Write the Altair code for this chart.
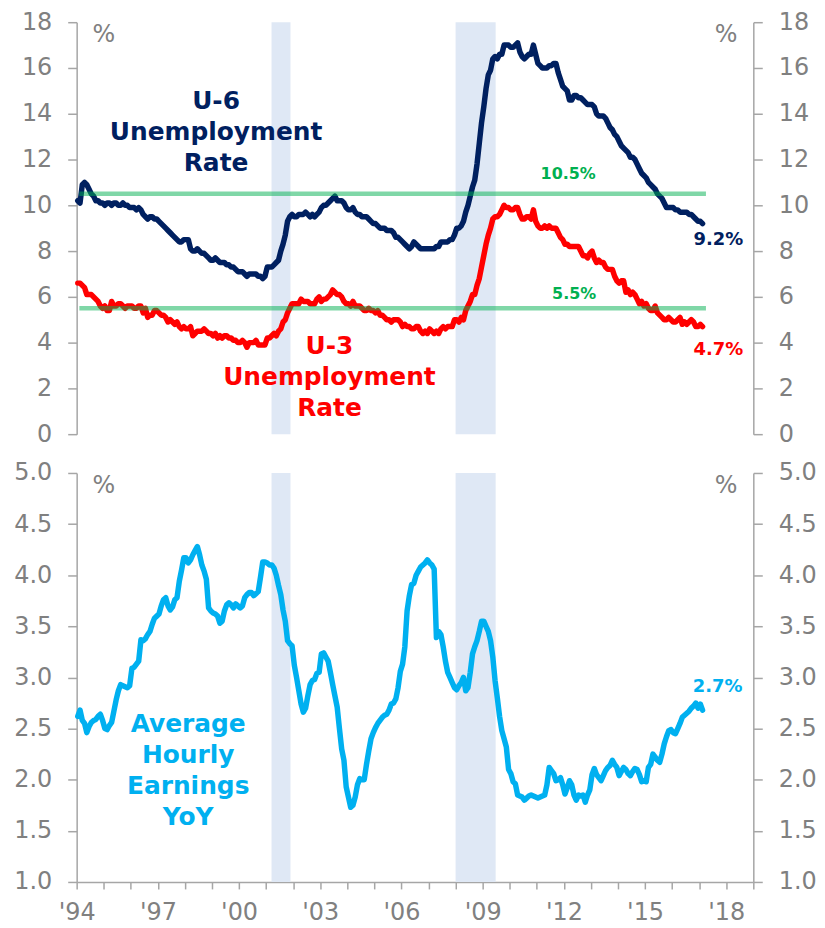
import altair as alt
import pandas as pd

# ---------------- data (monthly, Jan 1994 - Feb 2017) ----------------
START_YEAR = 1994

U6 = [
    10.2, 10.1, 10.9, 11.0, 10.9, 10.7, 10.5, 10.4, 10.2, 10.2, 10.1, 10.1,  # 1994
    10.0, 10.1, 10.1, 10.0, 10.1, 10.1, 10.0, 10.0, 10.1, 10.0, 10.0, 9.9,   # 1995
    9.9, 9.9, 9.8, 9.9, 9.8, 9.6, 9.5, 9.4, 9.5, 9.5, 9.4, 9.4,              # 1996
    9.3, 9.2, 9.1, 9.0, 8.9, 8.8, 8.7, 8.6, 8.5, 8.4, 8.4, 8.5,              # 1997
    8.5, 8.5, 8.1, 8.0, 8.0, 8.1, 8.0, 7.9, 7.9, 7.8, 7.7, 7.6,              # 1998
    7.6, 7.7, 7.6, 7.5, 7.5, 7.5, 7.4, 7.4, 7.3, 7.3, 7.2, 7.1,              # 1999
    7.1, 7.1, 7.0, 6.9, 7.0, 7.0, 7.0, 7.0, 6.9, 6.9, 6.8, 6.9,              # 2000
    7.3, 7.3, 7.3, 7.4, 7.5, 7.6, 8.0, 8.3, 8.7, 9.3, 9.5, 9.6,              # 2001
    9.5, 9.5, 9.6, 9.6, 9.6, 9.7, 9.6, 9.5, 9.6, 9.5, 9.6, 9.7,              # 2002
    9.9, 10.0, 10.0, 10.1, 10.2, 10.3, 10.4, 10.2, 10.2, 10.2, 10.1, 9.9,    # 2003
    9.8, 9.8, 9.9, 9.7, 9.6, 9.6, 9.5, 9.5, 9.5, 9.4, 9.3, 9.2,              # 2004
    9.2, 9.1, 9.0, 9.0, 9.0, 8.9, 8.9, 8.9, 8.8, 8.6, 8.6, 8.5,              # 2005
    8.4, 8.3, 8.2, 8.1, 8.2, 8.4, 8.3, 8.2, 8.1, 8.1, 8.1, 8.1,              # 2006
    8.1, 8.1, 8.1, 8.2, 8.2, 8.4, 8.4, 8.4, 8.4, 8.5, 8.5, 8.7,              # 2007
    9.0, 9.0, 9.1, 9.3, 9.7, 10.0, 10.4, 10.8, 11.1, 11.8, 12.7, 13.6,       # 2008
    14.3, 15.1, 15.7, 15.9, 16.4, 16.5, 16.4, 16.6, 16.6, 17.0, 17.0, 17.0,  # 2009
    16.9, 16.9, 17.0, 17.1, 16.7, 16.5, 16.4, 16.5, 16.6, 16.6, 17.0, 16.6,  # 2010
    16.2, 16.1, 16.0, 16.0, 16.0, 16.1, 16.1, 16.2, 16.2, 15.8, 15.5, 15.2,  # 2011
    15.1, 15.0, 14.6, 14.6, 14.8, 14.8, 14.7, 14.7, 14.6, 14.5, 14.4, 14.4,  # 2012
    14.4, 14.3, 14.0, 13.9, 13.9, 13.9, 13.8, 13.6, 13.4, 13.3, 13.1, 13.0,  # 2013
    12.8, 12.6, 12.5, 12.4, 12.3, 12.1, 12.1, 12.0, 11.8, 11.6, 11.4, 11.3,  # 2014
    11.2, 11.0, 10.9, 10.8, 10.7, 10.5, 10.4, 10.3, 10.1, 9.9, 9.9, 9.9,     # 2015
    9.9, 9.8, 9.8, 9.7, 9.7, 9.7, 9.7, 9.6, 9.6, 9.5, 9.4, 9.3,              # 2016
    9.3, 9.2,                                                                # 2017
]

U3 = [
    6.6, 6.6, 6.5, 6.4, 6.1, 6.1, 6.1, 6.0, 5.9, 5.8, 5.6, 5.5,  # 1994
    5.6, 5.4, 5.4, 5.8, 5.6, 5.6, 5.7, 5.7, 5.6, 5.5, 5.6, 5.6,  # 1995
    5.6, 5.5, 5.5, 5.6, 5.6, 5.3, 5.5, 5.1, 5.2, 5.2, 5.4, 5.4,  # 1996
    5.3, 5.2, 5.2, 5.1, 4.9, 5.0, 4.9, 4.8, 4.9, 4.7, 4.6, 4.7,  # 1997
    4.6, 4.6, 4.7, 4.3, 4.4, 4.5, 4.5, 4.5, 4.6, 4.5, 4.4, 4.4,  # 1998
    4.3, 4.4, 4.2, 4.3, 4.2, 4.3, 4.3, 4.2, 4.2, 4.1, 4.1, 4.0,  # 1999
    4.0, 4.1, 4.0, 3.8, 4.0, 4.0, 4.0, 4.1, 3.9, 3.9, 3.9, 3.9,  # 2000
    4.2, 4.2, 4.3, 4.4, 4.3, 4.5, 4.6, 4.9, 5.0, 5.3, 5.5, 5.7,  # 2001
    5.7, 5.7, 5.7, 5.9, 5.8, 5.8, 5.8, 5.7, 5.7, 5.7, 5.9, 6.0,  # 2002
    5.8, 5.9, 5.9, 6.0, 6.1, 6.3, 6.2, 6.1, 6.1, 6.0, 5.8, 5.7,  # 2003
    5.7, 5.6, 5.8, 5.6, 5.6, 5.6, 5.5, 5.4, 5.4, 5.5, 5.4, 5.4,  # 2004
    5.3, 5.4, 5.2, 5.2, 5.1, 5.0, 5.0, 4.9, 5.0, 5.0, 5.0, 4.9,  # 2005
    4.7, 4.8, 4.7, 4.7, 4.6, 4.6, 4.7, 4.7, 4.5, 4.4, 4.5, 4.4,  # 2006
    4.6, 4.5, 4.4, 4.5, 4.4, 4.6, 4.7, 4.6, 4.7, 4.7, 4.7, 5.0,  # 2007
    5.0, 4.9, 5.1, 5.0, 5.4, 5.6, 5.8, 6.1, 6.1, 6.5, 6.8, 7.3,  # 2008
    7.8, 8.3, 8.7, 9.0, 9.4, 9.5, 9.5, 9.6, 9.8, 10.0, 9.9, 9.9, # 2009
    9.8, 9.8, 9.9, 9.9, 9.6, 9.4, 9.4, 9.5, 9.5, 9.4, 9.8, 9.3,  # 2010
    9.1, 9.0, 9.0, 9.1, 9.0, 9.1, 9.0, 9.0, 9.0, 8.8, 8.6, 8.5,  # 2011
    8.3, 8.3, 8.2, 8.2, 8.2, 8.2, 8.2, 8.0, 7.8, 7.8, 7.7, 7.9,  # 2012
    8.0, 7.7, 7.5, 7.6, 7.5, 7.5, 7.3, 7.2, 7.2, 7.2, 6.9, 6.7,  # 2013
    6.6, 6.7, 6.7, 6.2, 6.3, 6.1, 6.2, 6.1, 5.9, 5.7, 5.8, 5.6,  # 2014
    5.7, 5.5, 5.4, 5.4, 5.6, 5.3, 5.2, 5.1, 5.0, 5.0, 5.1, 5.0,  # 2015
    4.9, 4.9, 5.0, 5.1, 4.8, 4.9, 4.8, 4.9, 5.0, 4.9, 4.7, 4.7,  # 2016
    4.8, 4.7,                                                    # 2017
]

AHE = [
    2.62, 2.68, 2.58, 2.55, 2.46, 2.52, 2.56, 2.58, 2.59, 2.62, 2.64, 2.58,  # 1994
    2.50, 2.49, 2.53, 2.56, 2.67, 2.78, 2.87, 2.93, 2.92, 2.91, 2.90, 2.92,  # 1995
    3.09, 3.10, 3.13, 3.16, 3.37, 3.36, 3.38, 3.42, 3.45, 3.52, 3.58, 3.60,  # 1996
    3.62, 3.70, 3.76, 3.78, 3.70, 3.66, 3.69, 3.76, 3.78, 3.94, 4.05, 4.17,  # 1997
    4.17, 4.12, 4.15, 4.20, 4.24, 4.28, 4.20, 4.10, 4.04, 3.96, 3.68, 3.65,  # 1998
    3.63, 3.62, 3.60, 3.53, 3.55, 3.65, 3.71, 3.73, 3.71, 3.68, 3.72, 3.70,  # 1999
    3.68, 3.70, 3.78, 3.81, 3.83, 3.83, 3.80, 3.82, 3.84, 3.98, 4.13, 4.13,  # 2000
    4.12, 4.10, 4.10, 4.07, 4.00, 3.90, 3.81, 3.66, 3.55, 3.36, 3.33, 3.31,  # 2001
    3.12, 3.00, 2.87, 2.74, 2.66, 2.70, 2.82, 2.93, 2.97, 2.98, 3.04, 3.05,  # 2002
    3.23, 3.24, 3.20, 3.16, 3.05, 2.93, 2.82, 2.71, 2.50, 2.30, 2.19, 1.93,  # 2003
    1.83, 1.73, 1.75, 1.83, 1.95, 2.01, 2.00, 2.00, 2.15, 2.28, 2.40, 2.46,  # 2004
    2.51, 2.55, 2.58, 2.61, 2.63, 2.64, 2.68, 2.74, 2.75, 2.79, 2.90, 3.06,  # 2005
    3.13, 3.30, 3.65, 3.80, 3.91, 3.92, 4.00, 4.04, 4.08, 4.10, 4.12, 4.15,  # 2006
    4.12, 4.10, 4.06, 3.39, 3.45, 3.42, 3.30, 3.16, 3.05, 3.00, 2.95, 2.90,  # 2007
    2.88, 2.92, 2.95, 3.00, 2.87, 2.90, 3.05, 3.23, 3.30, 3.36, 3.45, 3.55,  # 2008
    3.55, 3.50, 3.45, 3.36, 3.20, 2.97, 2.80, 2.62, 2.48, 2.40, 2.32, 2.10,  # 2009
    2.06, 1.98, 1.96, 1.85, 1.84, 1.83, 1.80, 1.82, 1.84, 1.85, 1.84, 1.83,  # 2010
    1.82, 1.83, 1.84, 1.85, 1.95, 2.12, 2.09, 2.06, 1.99, 2.00, 2.02, 1.95,  # 2011
    1.86, 1.92, 1.99, 1.95, 1.85, 1.80, 1.85, 1.84, 1.85, 1.78, 1.85, 1.90,  # 2012
    2.05, 2.11, 2.05, 2.02, 1.99, 2.04, 2.09, 2.12, 2.14, 2.19, 2.15, 2.12,  # 2013
    2.04, 2.08, 2.12, 2.10, 2.06, 2.04, 2.08, 2.11, 2.10, 2.05, 1.98, 1.99,  # 2014
    1.98, 2.12, 2.15, 2.25, 2.22, 2.19, 2.17, 2.25, 2.35, 2.42, 2.48, 2.49,  # 2015
    2.46, 2.45, 2.50, 2.55, 2.61, 2.63, 2.65, 2.67, 2.70, 2.72, 2.75, 2.70,  # 2016
    2.74, 2.68,                                                              # 2017
]

REC_START = [2001.2, 2008.0]
REC_END = [2001.9, 2009.48]

REF_LEVELS = [10.5, 5.5]
REF_LABELS = ["10.5%", "5.5%"]
REF_FROM = [1994.1, 1994.1]
REF_TO = [2017.25, 2017.25]

YEAR_TICKS = list(range(1994, 2020))
TOP_TICKS = [0, 2, 4, 6, 8, 10, 12, 14, 16, 18]
BOT_TICKS = [1.0, 1.5, 2.0, 2.5, 3.0, 3.5, 4.0, 4.5, 5.0]

# ---------------- styling ----------------
W, H1, H2 = 680, 414, 411
FONT = "DejaVu Sans"
GRAY = "#808080"
AXC = "#a6a6a6"
NAVY = "#002060"
RED = "#ff0000"
CYAN = "#00b0f0"
GREEN = "#00b050"
SHADE = "#dfe8f5"
LW = 5.5

n = len(U3)
t = [START_YEAR + (i + 0.5) / 12 for i in range(n)]
df = pd.DataFrame({"t": t, "U6": U6[:n], "U3": U3, "AHE": AHE[:n]})
rec = pd.DataFrame({"s": REC_START, "e": REC_END})
refs = pd.DataFrame({"a": REF_FROM, "b": REF_TO, "v": REF_LEVELS})

xs = alt.Scale(domain=[1994, 2019], nice=False, zero=False)
ys_top = alt.Scale(domain=[0, 18], nice=False, zero=False)
ys_bot = alt.Scale(domain=[1, 5], nice=False, zero=False)


def yaxis(orient, vals, fmt):
    return alt.Axis(orient=orient, values=vals, format=fmt, grid=False, title=None,
                    domainColor=AXC, domainWidth=1.5, tickColor=AXC, tickWidth=1.5,
                    tickSize=9, labelPadding=16, labelFontSize=24, labelFont=FONT,
                    labelColor=GRAY, labelOverlap=False)


XAXIS = alt.Axis(values=YEAR_TICKS, format="d", grid=False, title=None,
                 labelExpr="(datum.value - 1994) % 3 == 0 ? \"'\" + substring(datum.label, 2, 4) : ''",
                 domainColor=AXC, domainWidth=1.5, tickColor=AXC, tickWidth=1.5,
                 tickSize=7, labelPadding=12, labelFontSize=24, labelFont=FONT,
                 labelColor=GRAY, labelFlush=False, labelOverlap=False)

TOP_LEFT = yaxis("left", TOP_TICKS, "d")
TOP_RIGHT = yaxis("right", TOP_TICKS, "d")
BOT_LEFT = yaxis("left", BOT_TICKS, ".1f")
BOT_RIGHT = yaxis("right", BOT_TICKS, ".1f")


def texts(xv, yv, labels, colors, yscale, y_axis, x_axis, size, weight="bold"):
    d = pd.DataFrame({"x": xv, "y": yv, "txt": labels, "c": colors})
    return alt.Chart(d).mark_text(font=FONT, fontSize=size, fontWeight=weight,
                                  align="center", baseline="alphabetic",
                                  lineBreak="\n", lineHeight=31).encode(
        x=alt.X("x:Q", scale=xs, axis=x_axis),
        y=alt.Y("y:Q", scale=yscale, axis=y_axis),
        text="txt:N",
        color=alt.Color("c:N", scale=None),
    )


def shade(h, x_axis):
    return alt.Chart(rec).mark_rect(color=SHADE).encode(
        x=alt.X("s:Q", scale=xs, axis=x_axis), x2="e:Q",
        y=alt.value(0), y2=alt.value(h))


def line(col, color, yscale, y_axis, x_axis):
    return alt.Chart(df).mark_line(color=color, strokeWidth=LW, strokeJoin="round",
                                   strokeCap="round").encode(
        x=alt.X("t:Q", scale=xs, axis=x_axis),
        y=alt.Y(f"{col}:Q", scale=yscale, axis=y_axis),
    )


def ghost(col, yscale, y_axis, x_axis):
    return alt.Chart(df).mark_point(opacity=0).encode(
        x=alt.X("t:Q", scale=xs, axis=x_axis),
        y=alt.Y(f"{col}:Q", scale=yscale, axis=y_axis),
    )


# ---------------- top panel ----------------
green = alt.Chart(refs).mark_rule(color=GREEN, opacity=0.5, strokeWidth=4.5).encode(
    x=alt.X("a:Q", scale=xs, axis=None), x2="b:Q",
    y=alt.Y("v:Q", scale=ys_top, axis=TOP_LEFT))

top_main = alt.layer(
    shade(H1, None),
    line("U6", NAVY, ys_top, TOP_LEFT, None),
    line("U3", RED, ys_top, TOP_LEFT, None),
    green,
    texts([2012.16, 2012.38], [11.17, 5.91], REF_LABELS, [GREEN, GREEN], ys_top, TOP_LEFT, None, 16),
    texts([1999.15, 2003.34], [14.2, 3.5],
          ["U-6\nUnemployment\nRate", "U-3\nUnemployment\nRate"], [NAVY, RED],
          ys_top, TOP_LEFT, None, 25),
    texts([2017.71, 2017.71], [8.26, 3.48], ["9.2%", "4.7%"], [NAVY, RED], ys_top, TOP_LEFT, None, 18),
    texts([1995.0, 2017.99], [17.13, 17.13], ["%", "%"], [GRAY, GRAY], ys_top, TOP_LEFT, None, 24, "normal"),
)
top = alt.layer(top_main, ghost("U6", ys_top, TOP_RIGHT, None)).resolve_scale(
    y="independent").properties(width=W, height=H1)

# ---------------- bottom panel ----------------
bot_main = alt.layer(
    shade(H2, XAXIS),
    line("AHE", CYAN, ys_bot, BOT_LEFT, XAXIS),
    texts([1998.12], [2.465], ["Average\nHourly\nEarnings\nYoY"], [CYAN], ys_bot, BOT_LEFT, XAXIS, 25),
    texts([2017.68], [2.86], ["2.7%"], [CYAN], ys_bot, BOT_LEFT, XAXIS, 18),
    texts([1995.0, 2017.99], [4.805, 4.805], ["%", "%"], [GRAY, GRAY], ys_bot, BOT_LEFT, XAXIS, 24, "normal"),
)
bottom = alt.layer(bot_main, ghost("AHE", ys_bot, BOT_RIGHT, XAXIS)).resolve_scale(
    y="independent").properties(width=W, height=H2)

chart = alt.vconcat(top, bottom, spacing=15).properties(
    padding={"left": 5, "top": 0, "right": 0, "bottom": 0}
).configure_view(strokeWidth=0)

chart.save("out.html", embed_options={"renderer": "svg", "actions": False})
